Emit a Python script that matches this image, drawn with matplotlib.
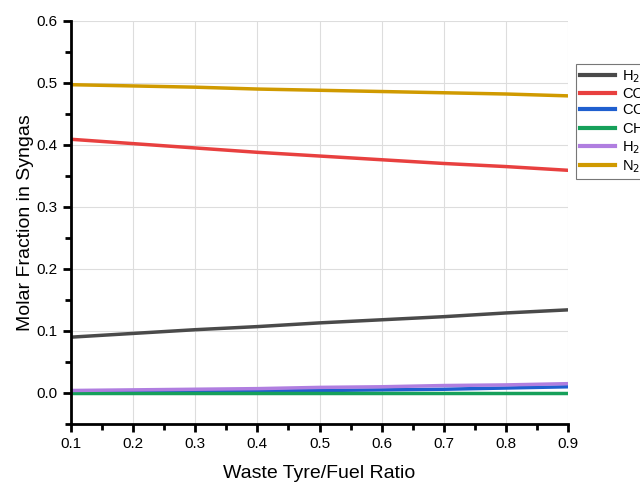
import matplotlib
matplotlib.use('Agg')
import matplotlib.pyplot as plt
from matplotlib.ticker import MultipleLocator

plt.rcParams['font.family'] = ['Liberation Sans', 'DejaVu Sans']

ratio = [0.1, 0.2, 0.3, 0.4, 0.5, 0.6, 0.7, 0.8, 0.9]
h2 = [0.090, 0.096, 0.102, 0.107, 0.113, 0.118, 0.123, 0.129, 0.134]
co = [0.409, 0.402, 0.395, 0.388, 0.382, 0.376, 0.370, 0.365, 0.359]
co2 = [0.000, 0.001, 0.002, 0.003, 0.004, 0.005, 0.006, 0.008, 0.010]
ch4 = [0.000, 0.000, 0.000, 0.000, 0.000, 0.000, 0.000, 0.000, 0.000]
h2o = [0.004, 0.005, 0.006, 0.007, 0.009, 0.010, 0.012, 0.013, 0.015]
n2 = [0.497, 0.495, 0.493, 0.490, 0.488, 0.486, 0.484, 0.482, 0.479]

labels = ['H$_2$', 'CO', 'CO$_2$', 'CH$_4$', 'H$_2$O', 'N$_2$']
colors = ['#4a4a4a', '#e8403f', '#1f5fcf', '#16a05a', '#b07ee0', '#d09a00']

fig = plt.figure(figsize=(6.4, 4.84), dpi=100)
ax = fig.add_axes([0.111, 0.124, 0.7765, 0.833])

for vals, lab, c in zip([h2, co, co2, ch4, h2o, n2], labels, colors):
    ax.plot(ratio, vals, color=c, lw=2.5, label=lab)

ax.set_xlim(0.1, 0.9)
ax.set_ylim(-0.05, 0.6)
ax.xaxis.set_major_locator(MultipleLocator(0.1))
ax.xaxis.set_minor_locator(MultipleLocator(0.05))
ax.yaxis.set_major_locator(MultipleLocator(0.1))
ax.yaxis.set_minor_locator(MultipleLocator(0.05))
ax.set_yticks([0.0, 0.1, 0.2, 0.3, 0.4, 0.5, 0.6])
ax.set_yticklabels(['0.0', '0.1', '0.2', '0.3', '0.4', '0.5', '0.6'])
ax.grid(True, which='major', color='#dddddd', lw=0.8)
ax.set_axisbelow(True)

for s in ['top', 'right']:
    ax.spines[s].set_visible(False)
for s in ['left', 'bottom']:
    ax.spines[s].set_linewidth(2)
ax.tick_params(which='major', direction='out', length=6, width=2, labelsize=11)
ax.tick_params(which='minor', direction='out', length=4, width=2)

ax.set_xlabel('Waste Tyre/Fuel Ratio', fontsize=14, labelpad=10)
ax.set_ylabel('Molar Fraction in Syngas', fontsize=14, labelpad=2)

leg = fig.legend(loc='upper left', bbox_to_anchor=(576 / 640, 1 - 64 / 484),
                 borderaxespad=0, fontsize=10.5, frameon=True, fancybox=False,
                 edgecolor='#555555', handlelength=2.4, borderpad=0.3,
                 labelspacing=0.12, handletextpad=0.45)
leg.get_frame().set_linewidth(0.8)
for line in leg.get_lines():
    line.set_linewidth(3)

fig.savefig('out.png', dpi=100)
